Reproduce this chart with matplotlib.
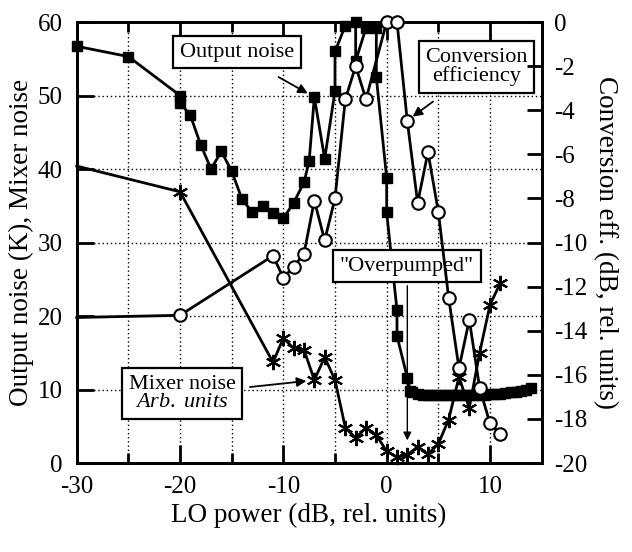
import matplotlib
matplotlib.use("Agg")
import matplotlib.pyplot as plt
from matplotlib.ticker import MultipleLocator

plt.rcParams['font.family'] = ['Liberation Serif', 'DejaVu Serif']
plt.rcParams['mathtext.fontset'] = 'custom'
plt.rcParams['mathtext.rm'] = 'Liberation Serif'
plt.rcParams['mathtext.it'] = 'Liberation Serif:italic'
plt.rcParams['axes.unicode_minus'] = False

# Output noise (K), filled squares, left axis
out_x = [-30, -25, -20, -20, -19, -18, -17, -16, -15, -14, -13, -12, -11, -10,
         -9, -8, -7.5, -7, -6, -5, -5, -4, -3, -3, -2, -1, -1, 0, 0, 1, 1, 2,
         2.3, 2.5, 3, 3.5, 4, 4.5, 5, 5.5, 6, 6.5, 7, 7.5, 8, 8.5, 9, 9.5,
         10, 10.5, 11, 11.5, 12, 12.5, 13, 13.5, 14]
out_y = [56.7, 55.3, 50.0, 49.0, 47.3, 43.3, 40.0, 42.4, 39.7, 35.9, 34.1, 35.0, 34.0, 33.3,
         35.4, 38.2, 41.1, 49.8, 41.4, 50.6, 56.0, 59.5, 60.0, 54.7, 59.2, 59.2, 52.5, 38.8, 34.1, 20.8, 17.3, 11.6,
         9.8, 9.6, 9.4, 9.3, 9.3, 9.2, 9.2, 9.2, 9.2, 9.3, 9.2, 9.2, 9.3, 9.3, 9.3, 9.3,
         9.4, 9.4, 9.4, 9.5, 9.6, 9.7, 9.8, 10.0, 10.2]

# Mixer noise (arb. units), asterisks, left axis
mix_x = [-30, -20, -11, -10, -9, -8, -7, -6, -5, -4, -3, -2, -1, 0, 1, 2, 3, 4, 5, 6, 7, 8, 9, 10, 11]
mix_y = [40.4, 36.9, 13.7, 17.0, 15.6, 15.4, 11.3, 14.4, 11.3, 4.8, 3.4, 4.8, 3.8, 1.6, 0.8, 1.1,
         2.2, 1.2, 2.6, 5.9, 11.7, 7.5, 15.0, 21.5, 24.5]

# Conversion efficiency (dB), open circles, right axis
conv_x = [-30, -20, -11, -10, -9, -8, -7, -6, -5, -4, -3, -2, 0, 1, 2, 3, 4, 5, 6, 7, 8, 9, 10, 11]
conv_y = [-13.4, -13.3, -10.6, -11.6, -11.1, -10.5, -8.1, -9.9, -8.0, -3.5, -2.0, -3.5, 0.0, 0.0,
          -4.5, -8.2, -5.9, -8.6, -12.5, -15.7, -13.5, -16.6, -18.2, -18.7]

fig = plt.figure(figsize=(6.32, 5.52), dpi=100)
ax = fig.add_axes([0.1214, 0.1612, 0.7356, 0.7989])
ax2 = ax.twinx()

ax.set_xlim(-30, 15)
ax.set_ylim(0, 60)
ax2.set_ylim(-20, 0)

ax.xaxis.set_major_locator(MultipleLocator(10))
ax.xaxis.set_minor_locator(MultipleLocator(5))
ax.yaxis.set_major_locator(MultipleLocator(10))
ax2.yaxis.set_major_locator(MultipleLocator(2))

ax.grid(True, which='both', axis='x', linestyle=(0, (1, 2)), color='black', linewidth=1.0)
ax.grid(True, which='major', axis='y', linestyle=(0, (1, 2)), color='black', linewidth=1.0)

ax.tick_params(axis='x', which='major', direction='in', length=13, width=2, top=True,
               labelsize=18, pad=9)
ax.tick_params(axis='x', which='minor', direction='in', length=7, width=2, top=True)
ax.tick_params(axis='y', which='major', direction='in', length=12, width=2, labelsize=18, pad=10)
ax2.tick_params(axis='y', direction='in', length=11, width=2, labelsize=18, pad=9)

for a in (ax, ax2):
    for s in a.spines.values():
        s.set_linewidth(2)

ax.plot(out_x, out_y, color='black', linewidth=2, marker='s', markersize=7,
        clip_on=False, zorder=3)
ax.plot(mix_x, mix_y, color='black', linewidth=2, marker=(6, 2, 0), markersize=11,
        markeredgewidth=1.5, markevery=slice(1, None), clip_on=False, zorder=3)
ax2.plot(conv_x, conv_y, color='black', linewidth=2, marker='o', markersize=9,
         markerfacecolor='white', markeredgewidth=1.5, markevery=slice(1, None),
         clip_on=False, zorder=3)

ax.set_xlabel('LO power (dB, rel. units)', fontsize=19.5, va='center')
ax.xaxis.set_label_coords(0.5, -0.118)
ax.set_ylabel('Output noise (K), Mixer noise', fontsize=19.5, va='center')
ax.yaxis.set_label_coords(-0.118, 0.5)
ax2.set_ylabel('Conversion eff. (dB, rel. units)', fontsize=19.5, rotation=270, va='center')
ax2.yaxis.set_label_coords(1.137, 0.5)

box = dict(boxstyle='square,pad=0.3', facecolor='white', edgecolor='black', linewidth=1.6)
arrow = dict(arrowstyle='-|>', color='black', linewidth=1.3, mutation_scale=14)

ax.text(-14.5, 55.9, 'Output noise', fontsize=16, ha='center', va='center', bbox=box, zorder=6)
ax.annotate('', xy=(-7.4, 50.1), xytext=(-10.7, 52.7), arrowprops=arrow, zorder=6)

ax.text(8.7, 53.9, 'Conversion\nefficiency', fontsize=16, ha='center', va='center',
        linespacing=0.95, bbox=box, zorder=6)
ax.annotate('', xy=(2.3, 46.9), xytext=(4.7, 49.4), arrowprops=arrow, zorder=6)

ax.text(1.95, 26.8, '"Overpumped"', fontsize=16, ha='center', va='center', bbox=box, zorder=6)
ax.annotate('', xy=(2.0, 2.7), xytext=(2.0, 24.5),
            arrowprops=dict(arrowstyle='-|>', color='black', linewidth=1.0, mutation_scale=12),
            zorder=6)

ax.text(-19.8, 9.5, 'Mixer noise\n$\\it{Arb.\\ units}$', fontsize=16, ha='center', va='center',
        linespacing=0.95, bbox=box, zorder=6)
ax.annotate('', xy=(-7.5, 11.2), xytext=(-13.5, 10.3), arrowprops=arrow, zorder=6)

ax2.set_zorder(ax.get_zorder() + 1)
ax2.patch.set_visible(False)

fig.savefig('out.png', dpi=100)
